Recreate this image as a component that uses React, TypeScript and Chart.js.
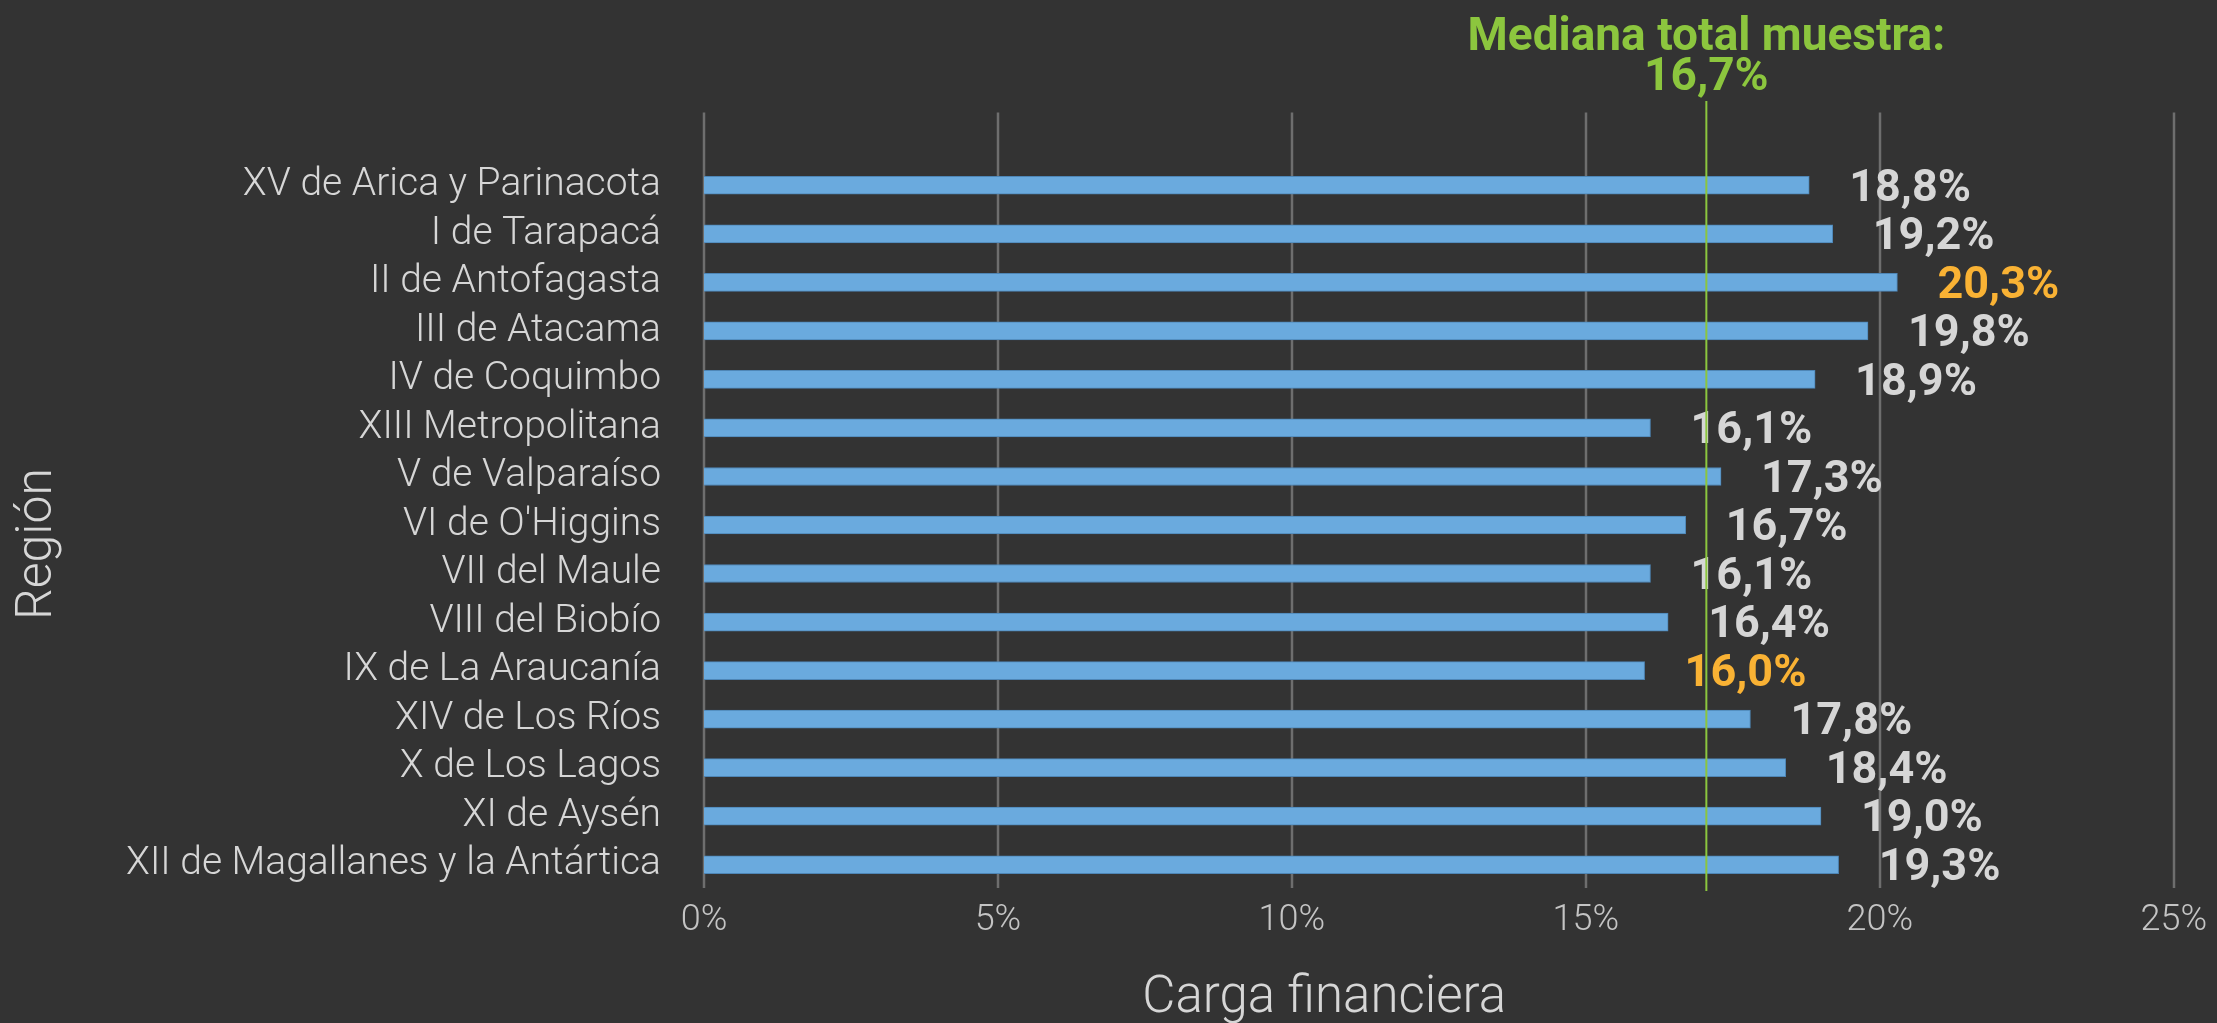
import React, { useEffect, useRef } from "react";
import { Chart, registerables } from "chart.js";

Chart.register(...registerables);

const regions = [
  "XV de Arica y Parinacota",
  "I de Tarapacá",
  "II de Antofagasta",
  "III de Atacama",
  "IV de Coquimbo",
  "XIII Metropolitana",
  "V de Valparaíso",
  "VI de O'Higgins",
  "VII del Maule",
  "VIII del Biobío",
  "IX de La Araucanía",
  "XIV de Los Ríos",
  "X de Los Lagos",
  "XI de Aysén",
  "XII de Magallanes y la Antártica",
];

const cargaFinanciera = [18.8, 19.2, 20.3, 19.8, 18.9, 16.1, 17.3, 16.7, 16.1, 16.4, 16.0, 17.8, 18.4, 19.0, 19.3];

const xTicks = [0, 5, 10, 15, 20, 25];
const medianLabel = "16,7%";
const medianLinePos = 17.05;
const medianTitle = "Mediana total muestra:";
const xTitle = "Carga financiera";
const yTitle = "Región";

const BG = "#333333";
const BAR = "#6aaade";
const BAR_BORDER = "#4e86b6";
const GRID = "#6e6e6e";
const LABEL = "#d6d6d6";
const ORANGE = "#f9b234";
const GREEN = "#8cc63e";

const fmt = (v: number) => v.toFixed(1).replace(".", ",") + "%";

export default function App() {
  const ref = useRef<HTMLCanvasElement | null>(null);

  useEffect(() => {
    document.body.style.margin = "0";
    document.body.style.background = BG;
    const canvas = ref.current!;
    const maxV = Math.max(...cargaFinanciera);
    const minV = Math.min(...cargaFinanciera);

    const bgPlugin = {
      id: "bg",
      beforeDraw(chart: any) {
        const { ctx } = chart;
        ctx.save();
        ctx.fillStyle = BG;
        ctx.fillRect(0, 0, chart.width, chart.height);
        ctx.restore();
      },
    };

    const gridPlugin = {
      id: "customGrid",
      beforeDatasetsDraw(chart: any) {
        const { ctx, chartArea } = chart;
        const x = chart.scales.x;
        const y = chart.scales.y;
        const band = y.getPixelForValue(1) - y.getPixelForValue(0);
        ctx.save();
        ctx.strokeStyle = GRID;
        ctx.lineWidth = 2.5;
        xTicks.forEach((t) => {
          const px = Math.round(x.getPixelForValue(t));
          ctx.beginPath();
          ctx.moveTo(px, chartArea.top - band);
          ctx.lineTo(px, chartArea.bottom - 1);
          ctx.stroke();
        });
        ctx.restore();
      },
    };

    const labelsPlugin = {
      id: "valueLabels",
      afterDatasetsDraw(chart: any) {
        const { ctx } = chart;
        const meta = chart.getDatasetMeta(0);
        ctx.save();
        ctx.font = "bold 45px Roboto";
        ctx.textAlign = "left";
        ctx.textBaseline = "middle";
        meta.data.forEach((bar: any, i: number) => {
          const v = cargaFinanciera[i];
          ctx.fillStyle = v === maxV || v === minV ? ORANGE : LABEL;
          ctx.fillText(fmt(v), bar.x + 40, bar.y + 4);
        });
        ctx.restore();
      },
    };

    const medianPlugin = {
      id: "median",
      afterDraw(chart: any) {
        const { ctx, chartArea } = chart;
        const x = chart.scales.x;
        const px = x.getPixelForValue(medianLinePos);
        ctx.save();
        ctx.strokeStyle = GREEN;
        ctx.lineWidth = 2;
        ctx.beginPath();
        ctx.moveTo(px, 101);
        ctx.lineTo(px, chartArea.bottom + 2);
        ctx.stroke();
        ctx.fillStyle = GREEN;
        ctx.font = "bold 46px Roboto";
        ctx.textAlign = "center";
        ctx.textBaseline = "alphabetic";
        ctx.fillText(medianTitle, px, 50);
        ctx.fillText(medianLabel, px, 90);

        // axis titles
        ctx.fillStyle = LABEL;
        ctx.font = "300 51px Roboto";
        ctx.textBaseline = "middle";
        const xt = chartArea.left + (chartArea.right - chartArea.left) * 0.422;
        ctx.fillText(xTitle, xt, 999);
        ctx.font = "300 50px Roboto";
        ctx.translate(38, 544);
        ctx.rotate(-Math.PI / 2);
        ctx.fillText(yTitle, 0, 0);
        ctx.restore();
      },
    };

    const chart = new Chart(canvas, {
      type: "bar",
      data: {
        labels: regions,
        datasets: [
          {
            data: cargaFinanciera,
            backgroundColor: BAR,
            borderColor: BAR_BORDER,
            borderWidth: 1,
            barThickness: 18,
          },
        ],
      },
      options: {
        indexAxis: "y",
        animation: false,
        responsive: false,
        maintainAspectRatio: false,
        layout: { padding: { top: 161, right: 42, left: 0, bottom: 0 } },
        plugins: {
          legend: { display: false },
          tooltip: { enabled: false },
        },
        scales: {
          x: {
            type: "linear",
            min: 0,
            max: 25,
            afterBuildTicks(scale: any) {
              scale.ticks = xTicks.map((v) => ({ value: v }));
            },
            afterFit(scale: any) {
              scale.height = 1023 - 889;
            },
            grid: { display: false, drawTicks: false },
            border: { display: false },
            ticks: {
              color: "#c4c4c4",
              font: { family: "Roboto", weight: "300", size: 36 },
              padding: 10,
              autoSkip: false,
              maxRotation: 0,
              callback: (v: any) => v + "%",
            },
          },
          y: {
            type: "category",
            afterFit(scale: any) {
              scale.width = 704;
            },
            grid: { display: false, drawTicks: false },
            border: { display: false },
            ticks: {
              color: LABEL,
              font: { family: "Roboto", weight: "300", size: 39 },
              padding: 43,
              autoSkip: false,
            },
          },
        },
      },
      plugins: [bgPlugin, gridPlugin, labelsPlugin, medianPlugin],
    });
    return () => chart.destroy();
  }, []);

  return (
    <div style={{ width: 2217, height: 1023, background: BG }}>
      <canvas ref={ref} width={2217} height={1023} style={{ display: "block" }} />
    </div>
  );
}
